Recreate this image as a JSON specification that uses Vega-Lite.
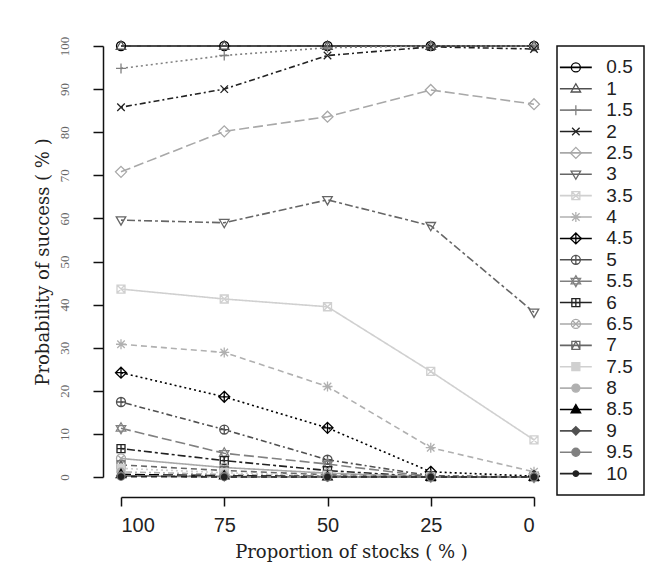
{
  "$schema": "https://vega.github.io/schema/vega-lite/v6.json",
  "background": "white",
  "padding": {"left": 33, "top": 36, "right": 20, "bottom": 20},
  "spacing": 13,
  "datasets": {
    "curves": [
      {"s":"0.5","p":100,"v":100},{"s":"0.5","p":75,"v":100},{"s":"0.5","p":50,"v":100},{"s":"0.5","p":25,"v":100},{"s":"0.5","p":0,"v":100},
      {"s":"1","p":100,"v":100},{"s":"1","p":75,"v":100},{"s":"1","p":50,"v":100},{"s":"1","p":25,"v":100},{"s":"1","p":0,"v":100},
      {"s":"1.5","p":100,"v":94.8},{"s":"1.5","p":75,"v":97.8},{"s":"1.5","p":50,"v":99.6},{"s":"1.5","p":25,"v":100},{"s":"1.5","p":0,"v":100},
      {"s":"2","p":100,"v":85.8},{"s":"2","p":75,"v":90},{"s":"2","p":50,"v":97.8},{"s":"2","p":25,"v":99.8},{"s":"2","p":0,"v":99.3},
      {"s":"2.5","p":100,"v":70.8},{"s":"2.5","p":75,"v":80.2},{"s":"2.5","p":50,"v":83.6},{"s":"2.5","p":25,"v":89.8},{"s":"2.5","p":0,"v":86.5},
      {"s":"3","p":100,"v":59.6},{"s":"3","p":75,"v":59},{"s":"3","p":50,"v":64.3},{"s":"3","p":25,"v":58.3},{"s":"3","p":0,"v":38.2},
      {"s":"3.5","p":100,"v":43.6},{"s":"3.5","p":75,"v":41.3},{"s":"3.5","p":50,"v":39.5},{"s":"3.5","p":25,"v":24.5},{"s":"3.5","p":0,"v":8.6},
      {"s":"4","p":100,"v":30.8},{"s":"4","p":75,"v":28.9},{"s":"4","p":50,"v":21},{"s":"4","p":25,"v":6.8},{"s":"4","p":0,"v":1.2},
      {"s":"4.5","p":100,"v":24.2},{"s":"4.5","p":75,"v":18.6},{"s":"4.5","p":50,"v":11.4},{"s":"4.5","p":25,"v":1.2},{"s":"4.5","p":0,"v":0.2},
      {"s":"5","p":100,"v":17.4},{"s":"5","p":75,"v":11},{"s":"5","p":50,"v":4},{"s":"5","p":25,"v":0.3},{"s":"5","p":0,"v":0},
      {"s":"5.5","p":100,"v":11.3},{"s":"5.5","p":75,"v":5.5},{"s":"5.5","p":50,"v":3},{"s":"5.5","p":25,"v":0.1},{"s":"5.5","p":0,"v":0},
      {"s":"6","p":100,"v":6.6},{"s":"6","p":75,"v":3.8},{"s":"6","p":50,"v":1.5},{"s":"6","p":25,"v":0},{"s":"6","p":0,"v":0},
      {"s":"6.5","p":100,"v":4.3},{"s":"6.5","p":75,"v":2.2},{"s":"6.5","p":50,"v":0.9},{"s":"6.5","p":25,"v":0},{"s":"6.5","p":0,"v":0},
      {"s":"7","p":100,"v":2.8},{"s":"7","p":75,"v":1.5},{"s":"7","p":50,"v":0.5},{"s":"7","p":25,"v":0},{"s":"7","p":0,"v":0},
      {"s":"7.5","p":100,"v":2},{"s":"7.5","p":75,"v":1},{"s":"7.5","p":50,"v":0.3},{"s":"7.5","p":25,"v":0},{"s":"7.5","p":0,"v":0},
      {"s":"8","p":100,"v":1.2},{"s":"8","p":75,"v":0.6},{"s":"8","p":50,"v":0.2},{"s":"8","p":25,"v":0},{"s":"8","p":0,"v":0},
      {"s":"8.5","p":100,"v":0.6},{"s":"8.5","p":75,"v":0.3},{"s":"8.5","p":50,"v":0.1},{"s":"8.5","p":25,"v":0},{"s":"8.5","p":0,"v":0},
      {"s":"9","p":100,"v":0.3},{"s":"9","p":75,"v":0.1},{"s":"9","p":50,"v":0},{"s":"9","p":25,"v":0},{"s":"9","p":0,"v":0},
      {"s":"9.5","p":100,"v":0.2},{"s":"9.5","p":75,"v":0.1},{"s":"9.5","p":50,"v":0},{"s":"9.5","p":25,"v":0},{"s":"9.5","p":0,"v":0},
      {"s":"10","p":100,"v":0.1},{"s":"10","p":75,"v":0},{"s":"10","p":50,"v":0},{"s":"10","p":25,"v":0},{"s":"10","p":0,"v":0}
    ],
    "keys": [
      {"s":"0.5"},{"s":"1"},{"s":"1.5"},{"s":"2"},{"s":"2.5"},{"s":"3"},{"s":"3.5"},{"s":"4"},{"s":"4.5"},{"s":"5"},
      {"s":"5.5"},{"s":"6"},{"s":"6.5"},{"s":"7"},{"s":"7.5"},{"s":"8"},{"s":"8.5"},{"s":"9"},{"s":"9.5"},{"s":"10"}
    ]
  },
  "hconcat": [
    {
      "width": 413,
      "height": 431,
      "view": {"stroke": null},
      "data": {"name": "curves"},
      "layer": [
        {
          "mark": {"type": "line", "strokeWidth": 1.6},
          "encoding": {
            "x": {"field": "p", "type": "quantitative", "scale": {"domain": [0, 100], "reverse": true},
              "axis": {"values": [100, 75, 50, 25, 0], "format": "d", "title": "Proportion of stocks ( % )", "offset": 20, "tickSize": 9, "tickWidth": 1.5, "tickColor": "#111", "domainColor": "#111", "domainWidth": 1.5, "grid": false,
                "labelFont": "Liberation Sans Narrow, Liberation Sans, sans-serif", "labelFontSize": 20, "labelColor": "#222", "labelPadding": 9,
                "titleFont": "DejaVu Serif", "titleFontSize": 18, "titleFontWeight": "normal", "titleColor": "#222", "titlePadding": 8, "titleX": 230}},
            "y": {"field": "v", "type": "quantitative", "scale": {"domain": [0, 100]},
              "axis": {"values": [0, 10, 20, 30, 40, 50, 60, 70, 80, 90, 100], "title": "Probability of success ( % )", "offset": 18, "tickSize": 10, "tickWidth": 1.5, "tickColor": "#111", "domainColor": "#111", "domainWidth": 1.5, "grid": false,
                "labelAngle": -90, "labelAlign": "center", "labelBaseline": "bottom", "labelFont": "Liberation Serif", "labelFontSize": 13, "labelColor": "#666", "labelPadding": 22,
                "titleFont": "DejaVu Serif", "titleFontSize": 18, "titleFontWeight": "normal", "titleColor": "#222", "titlePadding": 6}},
            "detail": {"field": "s"},
            "stroke": {"field": "s", "type": "nominal", "legend": null,
              "scale": {"domain": ["0.5","1","1.5","2","2.5","3","3.5","4","4.5","5","5.5","6","6.5","7","7.5","8","8.5","9","9.5","10"],
                "range": ["#000000","#505050","#808080","#222222","#a8a8a8","#666666","#d0d0d0","#b0b0b0","#000000","#505050","#808080","#222222","#a8a8a8","#666666","#d0d0d0","#b0b0b0","#000000","#505050","#808080","#222222"]}},
            "strokeDash": {"field": "s", "type": "nominal", "legend": null,
              "scale": {"domain": ["0.5","1","1.5","2","2.5","3","3.5","4","4.5","5","5.5","6","6.5","7","7.5","8","8.5","9","9.5","10"],
                "range": [[1,0],[6,4],[2,3],[2,3,6,3],[10,4],[3,3,8,3],[1,0],[6,4],[2,3],[2,3,6,3],[10,4],[3,3,8,3],[1,0],[6,4],[2,3],[2,3,6,3],[10,4],[3,3,8,3],[1,0],[6,4]]}}
          }
        },
        {
          "mark": {"type": "point", "size": 100, "strokeWidth": 1.3, "opacity": 1},
          "encoding": {
            "x": {"field": "p", "type": "quantitative"},
            "y": {"field": "v", "type": "quantitative"},
            "shape": {"field": "s", "type": "nominal", "legend": null,
              "scale": {"domain": ["0.5","1","1.5","2","2.5","3","3.5","4","4.5","5","5.5","6","6.5","7","7.5","8","8.5","9","9.5","10"],
                "range": [
                  "M-0.9,0A0.9,0.9 0 1,0 0.9,0A0.9,0.9 0 1,0 -0.9,0Z",
                  "M0,-1L0.95,0.65L-0.95,0.65Z",
                  "M-1,0H1M0,-1V1",
                  "M-0.75,-0.75L0.75,0.75M-0.75,0.75L0.75,-0.75",
                  "M0,-1.1L1.1,0L0,1.1L-1.1,0Z",
                  "M0,1L0.95,-0.65L-0.95,-0.65Z",
                  "M-0.8,-0.8H0.8V0.8H-0.8ZM-0.8,-0.8L0.8,0.8M-0.8,0.8L0.8,-0.8",
                  "M-1,0H1M0,-1V1M-0.75,-0.75L0.75,0.75M-0.75,0.75L0.75,-0.75",
                  "M0,-1.1L1.1,0L0,1.1L-1.1,0ZM-1.1,0H1.1M0,-1.1V1.1",
                  "M-0.9,0A0.9,0.9 0 1,0 0.9,0A0.9,0.9 0 1,0 -0.9,0ZM-0.9,0H0.9M0,-0.9V0.9",
                  "M0,-1.1L0.95,0.55L-0.95,0.55ZM0,1.1L0.95,-0.55L-0.95,-0.55Z",
                  "M-0.8,-0.8H0.8V0.8H-0.8ZM-0.8,0H0.8M0,-0.8V0.8",
                  "M-0.9,0A0.9,0.9 0 1,0 0.9,0A0.9,0.9 0 1,0 -0.9,0ZM-0.64,-0.64L0.64,0.64M-0.64,0.64L0.64,-0.64",
                  "M-0.8,-0.8H0.8V0.8H-0.8ZM-0.8,0.8L0,-0.8L0.8,0.8",
                  "M-0.8,-0.8H0.8V0.8H-0.8Z",
                  "M-0.8,0A0.8,0.8 0 1,0 0.8,0A0.8,0.8 0 1,0 -0.8,0Z",
                  "M0,-1L0.95,0.65L-0.95,0.65Z",
                  "M0,-0.85L0.85,0L0,0.85L-0.85,0Z",
                  "M-0.8,0A0.8,0.8 0 1,0 0.8,0A0.8,0.8 0 1,0 -0.8,0Z",
                  "M-0.55,0A0.55,0.55 0 1,0 0.55,0A0.55,0.55 0 1,0 -0.55,0Z"
                ]}},
            "stroke": {"field": "s", "type": "nominal", "legend": null},
            "fill": {"field": "s", "type": "nominal", "legend": null,
              "scale": {"domain": ["0.5","1","1.5","2","2.5","3","3.5","4","4.5","5","5.5","6","6.5","7","7.5","8","8.5","9","9.5","10"],
                "range": ["transparent","transparent","transparent","transparent","transparent","transparent","transparent","transparent","transparent","transparent","transparent","transparent","transparent","transparent","#d0d0d0","#b0b0b0","#000000","#505050","#808080","#222222"]}}
          }
        }
      ]
    },
    {
      "width": 87,
      "height": 449,
      "view": {"stroke": "#111", "strokeWidth": 1.5},
      "data": {"name": "keys"},
      "encoding": {
        "y": {"field": "s", "type": "ordinal", "sort": ["0.5","1","1.5","2","2.5","3","3.5","4","4.5","5","5.5","6","6.5","7","7.5","8","8.5","9","9.5","10"], "scale": {"type": "point", "padding": 1.05}, "axis": null}
      },
      "layer": [
        {
          "mark": {"type": "rule", "strokeWidth": 1.6},
          "encoding": {
            "x": {"datum": 3, "type": "quantitative", "scale": {"domain": [0, 87]}, "axis": null},
            "x2": {"datum": 36},
            "stroke": {"field": "s", "type": "nominal", "legend": null,
              "scale": {"domain": ["0.5","1","1.5","2","2.5","3","3.5","4","4.5","5","5.5","6","6.5","7","7.5","8","8.5","9","9.5","10"],
                "range": ["#000000","#505050","#808080","#222222","#a8a8a8","#666666","#d0d0d0","#b0b0b0","#000000","#505050","#808080","#222222","#a8a8a8","#666666","#d0d0d0","#b0b0b0","#000000","#505050","#808080","#222222"]}}
          }
        },
        {
          "mark": {"type": "point", "size": 100, "strokeWidth": 1.3, "opacity": 1},
          "encoding": {
            "x": {"datum": 19.5, "type": "quantitative"},
            "shape": {"field": "s", "type": "nominal", "legend": null,
              "scale": {"domain": ["0.5","1","1.5","2","2.5","3","3.5","4","4.5","5","5.5","6","6.5","7","7.5","8","8.5","9","9.5","10"],
                "range": [
                  "M-0.9,0A0.9,0.9 0 1,0 0.9,0A0.9,0.9 0 1,0 -0.9,0Z",
                  "M0,-1L0.95,0.65L-0.95,0.65Z",
                  "M-1,0H1M0,-1V1",
                  "M-0.75,-0.75L0.75,0.75M-0.75,0.75L0.75,-0.75",
                  "M0,-1.1L1.1,0L0,1.1L-1.1,0Z",
                  "M0,1L0.95,-0.65L-0.95,-0.65Z",
                  "M-0.8,-0.8H0.8V0.8H-0.8ZM-0.8,-0.8L0.8,0.8M-0.8,0.8L0.8,-0.8",
                  "M-1,0H1M0,-1V1M-0.75,-0.75L0.75,0.75M-0.75,0.75L0.75,-0.75",
                  "M0,-1.1L1.1,0L0,1.1L-1.1,0ZM-1.1,0H1.1M0,-1.1V1.1",
                  "M-0.9,0A0.9,0.9 0 1,0 0.9,0A0.9,0.9 0 1,0 -0.9,0ZM-0.9,0H0.9M0,-0.9V0.9",
                  "M0,-1.1L0.95,0.55L-0.95,0.55ZM0,1.1L0.95,-0.55L-0.95,-0.55Z",
                  "M-0.8,-0.8H0.8V0.8H-0.8ZM-0.8,0H0.8M0,-0.8V0.8",
                  "M-0.9,0A0.9,0.9 0 1,0 0.9,0A0.9,0.9 0 1,0 -0.9,0ZM-0.64,-0.64L0.64,0.64M-0.64,0.64L0.64,-0.64",
                  "M-0.8,-0.8H0.8V0.8H-0.8ZM-0.8,0.8L0,-0.8L0.8,0.8",
                  "M-0.8,-0.8H0.8V0.8H-0.8Z",
                  "M-0.8,0A0.8,0.8 0 1,0 0.8,0A0.8,0.8 0 1,0 -0.8,0Z",
                  "M0,-1L0.95,0.65L-0.95,0.65Z",
                  "M0,-0.85L0.85,0L0,0.85L-0.85,0Z",
                  "M-0.8,0A0.8,0.8 0 1,0 0.8,0A0.8,0.8 0 1,0 -0.8,0Z",
                  "M-0.55,0A0.55,0.55 0 1,0 0.55,0A0.55,0.55 0 1,0 -0.55,0Z"
                ]}},
            "stroke": {"field": "s", "type": "nominal", "legend": null},
            "fill": {"field": "s", "type": "nominal", "legend": null,
              "scale": {"domain": ["0.5","1","1.5","2","2.5","3","3.5","4","4.5","5","5.5","6","6.5","7","7.5","8","8.5","9","9.5","10"],
                "range": ["white","white","white","white","white","white","white","white","white","white","white","white","white","white","#d0d0d0","#b0b0b0","#000000","#505050","#808080","#222222"]}}
          }
        },
        {
          "mark": {"type": "text", "align": "left", "baseline": "middle", "font": "Liberation Sans Narrow, Liberation Sans, sans-serif", "fontSize": 19, "color": "#222"},
          "encoding": {
            "x": {"datum": 51, "type": "quantitative"},
            "text": {"field": "s"}
          }
        }
      ]
    }
  ]
}
